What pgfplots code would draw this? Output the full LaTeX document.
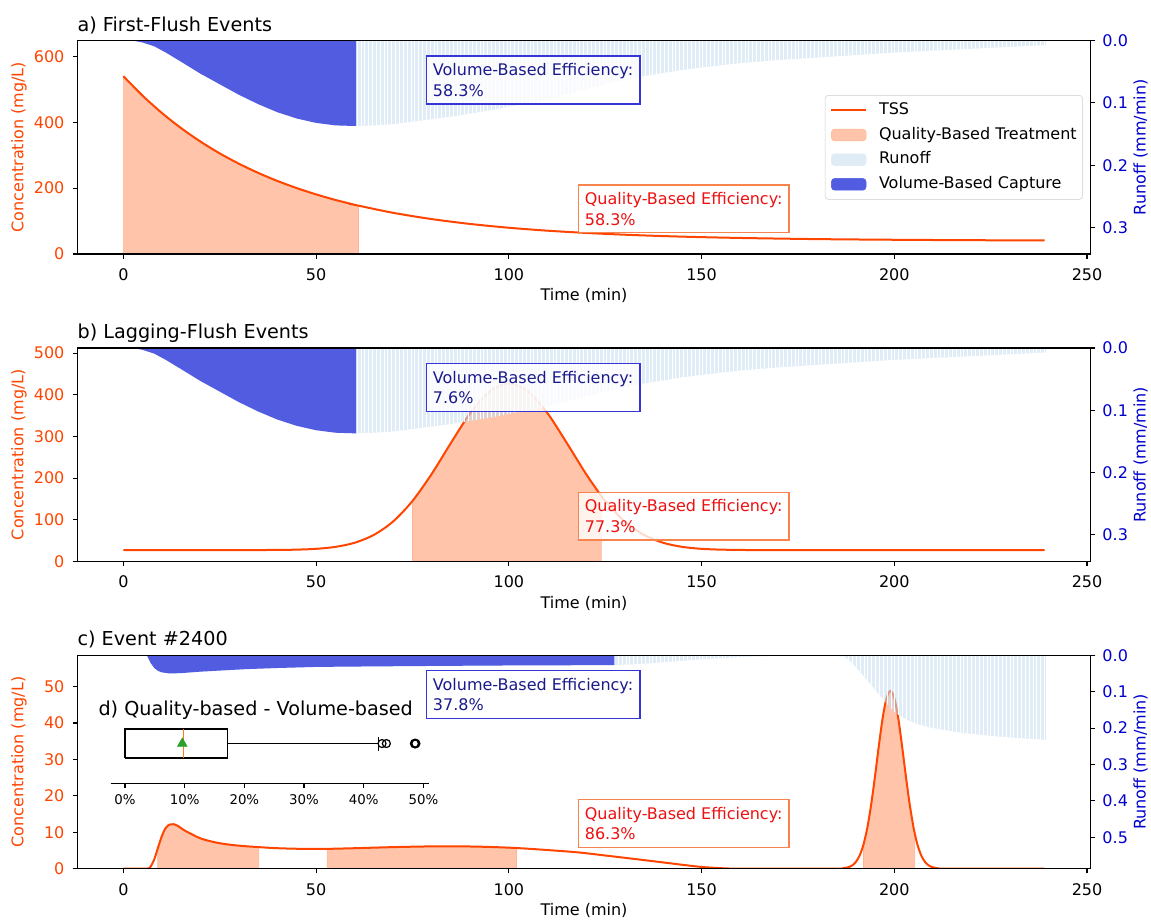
\documentclass[border=0pt]{standalone}
\usepackage{fontspec}
\setmainfont{DejaVu Sans}
\usepackage{pgfplots}
\usepackage{pgfplotstable}
\pgfplotsset{compat=1.18}
\usetikzlibrary{patterns.meta}

\definecolor{tss}{HTML}{FF4500}
\definecolor{runlab}{HTML}{0000CD}
\definecolor{qfill}{HTML}{FFC4AA}
\definecolor{qedge}{HTML}{FFB595}
\definecolor{runbar}{HTML}{C6DDEF}
\definecolor{runleg}{HTML}{DFECF6}
\definecolor{capfill}{HTML}{525CE0}
\definecolor{voltext}{HTML}{1A1A8C}
\definecolor{voledge}{HTML}{3535D8}
\definecolor{qtext}{HTML}{EE1111}
\definecolor{qbedge}{HTML}{F7844F}
\definecolor{legedge}{HTML}{CCCCCC}
\definecolor{mplorange}{HTML}{FF7F0E}
\definecolor{mplgreen}{HTML}{2CA02C}

\newcommand\fA{\fontsize{12pt}{15.4pt}\selectfont}
\newcommand\fT{\fontsize{14.4pt}{17pt}\selectfont}
\newcommand\fS{\fontsize{10pt}{12pt}\selectfont}

% ---------- data ----------
\pgfplotstableread{
t c
0 540
5 480.6
10 428.2
15 382.0
20 341.4
25 305.5
30 274.0
35 246.2
40 221.6
45 200.0
50 181.0
55 164.2
60 149.5
61 146.8
70 125.0
80 106.0
90 91.2
100 79.7
110 70.8
120 64.0
130 58.6
140 54.4
150 51.2
160 48.7
170 46.8
180 45.2
190 44.1
200 43.2
210 42.5
220 41.9
230 41.5
239 41.2
}\tssA

\pgfplotstableread{
t c
0 27.0
30 27.0
40 27.4
45 28.1
50 30.0
55 34.7
60 44.6
65 63.6
70 95.9
75 145.0
80 210.2
85 284.8
90 356.2
95 407.9
100 427.0
105 407.9
110 356.2
115 284.8
120 210.2
124 156.9
125 145.0
130 95.9
135 63.6
140 44.6
145 34.7
150 30.0
155 28.1
160 27.4
170 27.0
239 27.0
}\tssB

\pgfplotstableread{
t c
0 0
6 0
7 0.5
8 2.5
8.9 5.5
10 9.0
11 11.2
12 12.1
13 12.2
14 11.8
15 11.1
16 10.4
18 9.3
20 8.3
23 7.4
26 6.8
30 6.3
35.1 5.9
40 5.6
45 5.45
50 5.4
52.9 5.42
60 5.6
70 5.9
80 6.1
88 6.1
95 5.95
102 5.65
110 5.1
118 4.45
125 3.6
133 2.6
140 1.7
145 1.05
150 0.45
155 0.12
160 0
185 0
187 0.15
188 0.35
189 0.82
190 1.79
191 3.58
192 6.6
193 11.2
194 17.6
195 25.4
196 33.8
197 41.5
198 46.85
199 48.8
200 46.85
201 41.5
202 33.8
203 25.4
204 17.6
205 11.2
205.3 9.7
206 6.6
207 3.58
208 1.79
209 0.82
210 0.35
211 0.15
213 0
239 0
}\tssC

\pgfplotstableread{
t r
2.6 0
3 0.0005
5 0.003
8 0.009
11 0.019
15 0.034
20 0.053
25 0.070
30 0.087
35 0.102
40 0.115
45 0.125
50 0.132
55 0.136
60 0.137
65 0.136
70 0.134
75 0.130
80 0.126
85 0.122
90 0.117
95 0.112
100 0.106
105 0.100
110 0.094
115 0.086
120 0.078
125 0.070
130 0.063
135 0.057
140 0.052
145 0.047
150 0.043
160 0.036
170 0.031
180 0.027
190 0.023
200 0.019
210 0.016
220 0.013
230 0.010
239.4 0.007
}\runAB

\pgfplotstableread{
t r
2.6 0
3 0.0005
5 0.003
8 0.009
11 0.019
15 0.034
20 0.053
25 0.070
30 0.087
35 0.102
40 0.115
45 0.125
50 0.132
55 0.136
60 0.137
60.4 0.137
}\capAB

\pgfplotstableread{
t r
6.1 0
7 0.020
8 0.035
9 0.043
10 0.047
12 0.050
15 0.049
20 0.045
25 0.042
32 0.038
40 0.035
50 0.032
60 0.031
72 0.030
85 0.029
100 0.028
111 0.028
120 0.027
127.4 0.027
130 0.026
135 0.023
140 0.019
145 0.015
150 0.011
155 0.008
160 0.005
165 0.003
170 0.002
180 0.001
187 0.003
189 0.020
190.5 0.038
192.3 0.060
194.5 0.088
196.6 0.115
198.5 0.138
200 0.156
202 0.170
203.6 0.179
206 0.189
209.6 0.199
214 0.207
218.3 0.214
223 0.219
227 0.223
233 0.228
239.4 0.232
}\runC

\pgfplotstableread{
t r
6.1 0
7 0.020
8 0.035
9 0.043
10 0.047
12 0.050
15 0.049
20 0.045
25 0.042
32 0.038
40 0.035
50 0.032
60 0.031
72 0.030
85 0.029
100 0.028
111 0.028
120 0.027
127.4 0.027
}\capC

% ---------- styles ----------
\tikzset{
  volbox/.style={draw=voledge, line width=1pt, fill=white, fill opacity=0.8, text opacity=1,
    text=voltext, font=\fA, align=left, anchor=north west, inner xsep=5pt, inner ysep=5.6pt},
  qbox/.style={draw=qbedge, line width=1pt, fill=white, fill opacity=0.8, text opacity=1,
    text=qtext, font=\fA, align=left, anchor=north west, inner xsep=5pt, inner ysep=5.6pt},
}
\pgfplotsset{
  base/.style={
    scale only axis, width=760pt, height=160pt,
    xmin=-11.95, xmax=250.95, ymin=0,
    tick align=outside, major tick length=3.5pt,
    every tick/.style={black, line width=0.8pt},
    axis line style={line width=0.8pt},
    /pgf/number format/assume math mode=true,
    tick label style={font=\fA, inner sep=0pt},
    axis on top,
  },
  leftax/.style={base,
    xtick={0,50,...,250}, xtick pos=left, ytick pos=left,
    xticklabel style={anchor=north, yshift=-7.2pt},
    yticklabel style={anchor=east, xshift=-6pt, text=tss},
    xlabel={Time (min)}, ylabel={Concentration (mg/L)},
    every axis x label/.style={at={(axis description cs:0.5,-0.196)}, anchor=center, font=\fA},
    every axis y label/.style={at={(axis description cs:-0.0575,0.5)}, rotate=90, anchor=center, font=\fA, text=tss},
    every axis title/.style={font=\fT, at={(axis description cs:0,1)}, anchor=base west, yshift=7pt, inner sep=0pt},
  },
  rightax/.style={base,
    y dir=reverse, xtick=\empty, ytick pos=right,
    yticklabel style={anchor=west, xshift=5.15pt, text=runlab,
      /pgf/number format/fixed, /pgf/number format/fixed zerofill, /pgf/number format/precision=1},
    ylabel={Runoff (mm/min)},
    every axis y label/.style={at={(axis description cs:1.0493,0.5)}, rotate=90, anchor=center, font=\fA, text=runlab},
  },
  tssline/.style={tss, line width=1.5pt, smooth, mark=none},
  qarea/.style={fill=qfill, draw=qedge, line width=0.5pt, smooth, mark=none, forget plot},
  runarea/.style={fill=runbar, fill opacity=0.55, draw=none, mark=none, forget plot,
    postaction={pattern={Lines[angle=90,distance=2.88pt,line width=0.55pt]}, pattern color=white}},
  caparea/.style={fill=capfill, draw=none, mark=none, forget plot},
}

\begin{document}
\begin{tikzpicture}
\path[use as bounding box] (0,0) rectangle (863.25pt,690pt);

% ================= panel a =================
\begin{axis}[leftax, at={(58pt,499.5pt)}, anchor=south west,
  ymax=648, ytick={0,200,400,600}, title={a) First-Flush Events}]
\addplot[qarea, restrict x to domain=0:61] table[x=t,y=c] {\tssA} \closedcycle;
\addplot[tssline, forget plot] table[x=t,y=c] {\tssA};
\end{axis}
\begin{axis}[rightax, at={(58pt,499.5pt)}, anchor=south west,
  ymax=0.3425, ytick={0,0.1,0.2,0.3},
  legend style={at={(axis description cs:0.9924,0.5)}, anchor=east, font=\fA,
    draw=legedge, fill=white, fill opacity=0.8, draw opacity=1, text opacity=1,
    rounded corners=2.5pt, inner xsep=3pt, inner ysep=4pt, row sep=4pt,
    nodes={inner sep=1.5pt, text height=9pt, text depth=2.5pt, anchor=west}},
  legend cell align=left]
\addplot[runarea] table[x=t,y=r] {\runAB} \closedcycle;
\addplot[caparea] table[x=t,y=r] {\capAB} \closedcycle;
\node[volbox] at (axis description cs:0.3437,0.9306) {Volume-Based Efficiency:\\58.3\%};
\node[qbox] at (axis description cs:0.4936,0.327) {Quality-Based Efficiency:\\58.3\%};
\addlegendimage{legend image code/.code={\path (-1.5pt,0pt) (34pt,0pt); \draw[tss, line width=1.5pt, fill opacity=1] (0pt,0pt) -- (26pt,0pt);}}
\addlegendimage{legend image code/.code={\path (-1.5pt,0pt) (34pt,0pt); \draw[draw=qedge, fill=qfill, fill opacity=1] (0pt,-4.4pt) rectangle (26pt,4.4pt);}}
\addlegendimage{legend image code/.code={\path (-1.5pt,0pt) (34pt,0pt); \fill[runleg, fill opacity=1] (0pt,-4.4pt) rectangle (26pt,4.4pt);}}
\addlegendimage{legend image code/.code={\path (-1.5pt,0pt) (34pt,0pt); \fill[capfill, fill opacity=1] (0pt,-4.4pt) rectangle (26pt,4.4pt);}}
\legend{TSS, Quality-Based Treatment, Runoff, Volume-Based Capture}
\end{axis}

% ================= panel b =================
\begin{axis}[leftax, at={(58pt,269pt)}, anchor=south west,
  ymax=512.4, ytick={0,100,...,500}, title={b) Lagging-Flush Events}]
\addplot[qarea, restrict x to domain=75:124] table[x=t,y=c] {\tssB} \closedcycle;
\addplot[tssline, forget plot] table[x=t,y=c] {\tssB};
\end{axis}
\begin{axis}[rightax, at={(58pt,269pt)}, anchor=south west,
  ymax=0.3425, ytick={0,0.1,0.2,0.3}]
\addplot[runarea] table[x=t,y=r] {\runAB} \closedcycle;
\addplot[caparea] table[x=t,y=r] {\capAB} \closedcycle;
\node[volbox] at (axis description cs:0.3437,0.9306) {Volume-Based Efficiency:\\7.6\%};
\node[qbox] at (axis description cs:0.4936,0.327) {Quality-Based Efficiency:\\77.3\%};
\end{axis}

% ================= panel c =================
\begin{axis}[leftax, at={(58pt,38.55pt)}, anchor=south west,
  ymax=58.6, ytick={0,10,...,50}, title={c) Event \#2400}]
\addplot[qarea, restrict x to domain=8.85:35.15] table[x=t,y=c] {\tssC} \closedcycle;
\addplot[qarea, restrict x to domain=52.85:102.05] table[x=t,y=c] {\tssC} \closedcycle;
\addplot[qarea, restrict x to domain=191.95:205.35] table[x=t,y=c] {\tssC} \closedcycle;
\addplot[tssline, forget plot] table[x=t,y=c] {\tssC};
\end{axis}
\begin{axis}[rightax, at={(58pt,38.55pt)}, anchor=south west,
  ymax=0.586, ytick={0,0.1,...,0.5}]
\addplot[runarea] table[x=t,y=r] {\runC} \closedcycle;
\addplot[caparea] table[x=t,y=r] {\capC} \closedcycle;
\node[volbox] at (axis description cs:0.3437,0.9306) {Volume-Based Efficiency:\\37.8\%};
\node[qbox] at (axis description cs:0.4936,0.327) {Quality-Based Efficiency:\\86.3\%};
\end{axis}

% ================= inset d =================
\begin{axis}[at={(83pt,102.5pt)}, anchor=south west, scale only axis,
  width=239pt, height=51pt,
  xmin=-2.40, xmax=51.0, ymin=0, ymax=1,
  axis x line*=bottom, axis y line=none,
  xtick={0,10,...,50}, xticklabels={0\%,10\%,20\%,30\%,40\%,50\%},
  tick align=outside, major tick length=3.5pt,
  every tick/.style={black, line width=0.8pt},
  axis line style={line width=0.8pt},
  xticklabel style={font=\fS, inner sep=0pt, anchor=north, yshift=-4.5pt},
  title={d) Quality-based - Volume-based},
  every axis title/.style={font=\fT, at={(axis description cs:-0.039,1)}, anchor=base west, inner sep=0pt},
  clip=false]
\addplot[black, line width=1pt, mark=none, line join=miter] coordinates {(0,0.372) (17.16,0.372) (17.16,0.798) (0,0.798) (0,0.372)};
\addplot[black, line width=1pt, mark=none] coordinates {(17.16,0.585) (42.5,0.585)};
\addplot[black, line width=1pt, mark=none] coordinates {(42.5,0.474) (42.5,0.685)};
\addplot[black, line width=1pt, mark=none] coordinates {(0,0.474) (0,0.685)};
\addplot[mplorange, line width=1pt, mark=none] coordinates {(9.79,0.372) (9.79,0.798)};
\addplot[only marks, mark=o, mark size=3pt, black, line width=0.9pt] coordinates {(43.07,0.585) (43.8,0.585)};
\addplot[only marks, mark=o, mark size=3pt, black, line width=1.3pt] coordinates {(48.55,0.585) (48.7,0.585)};
\addplot[only marks, mark=triangle*, mark size=4.2pt, mplgreen, draw=mplgreen] coordinates {(9.6,0.585)};
\end{axis}
\end{tikzpicture}
\end{document}
